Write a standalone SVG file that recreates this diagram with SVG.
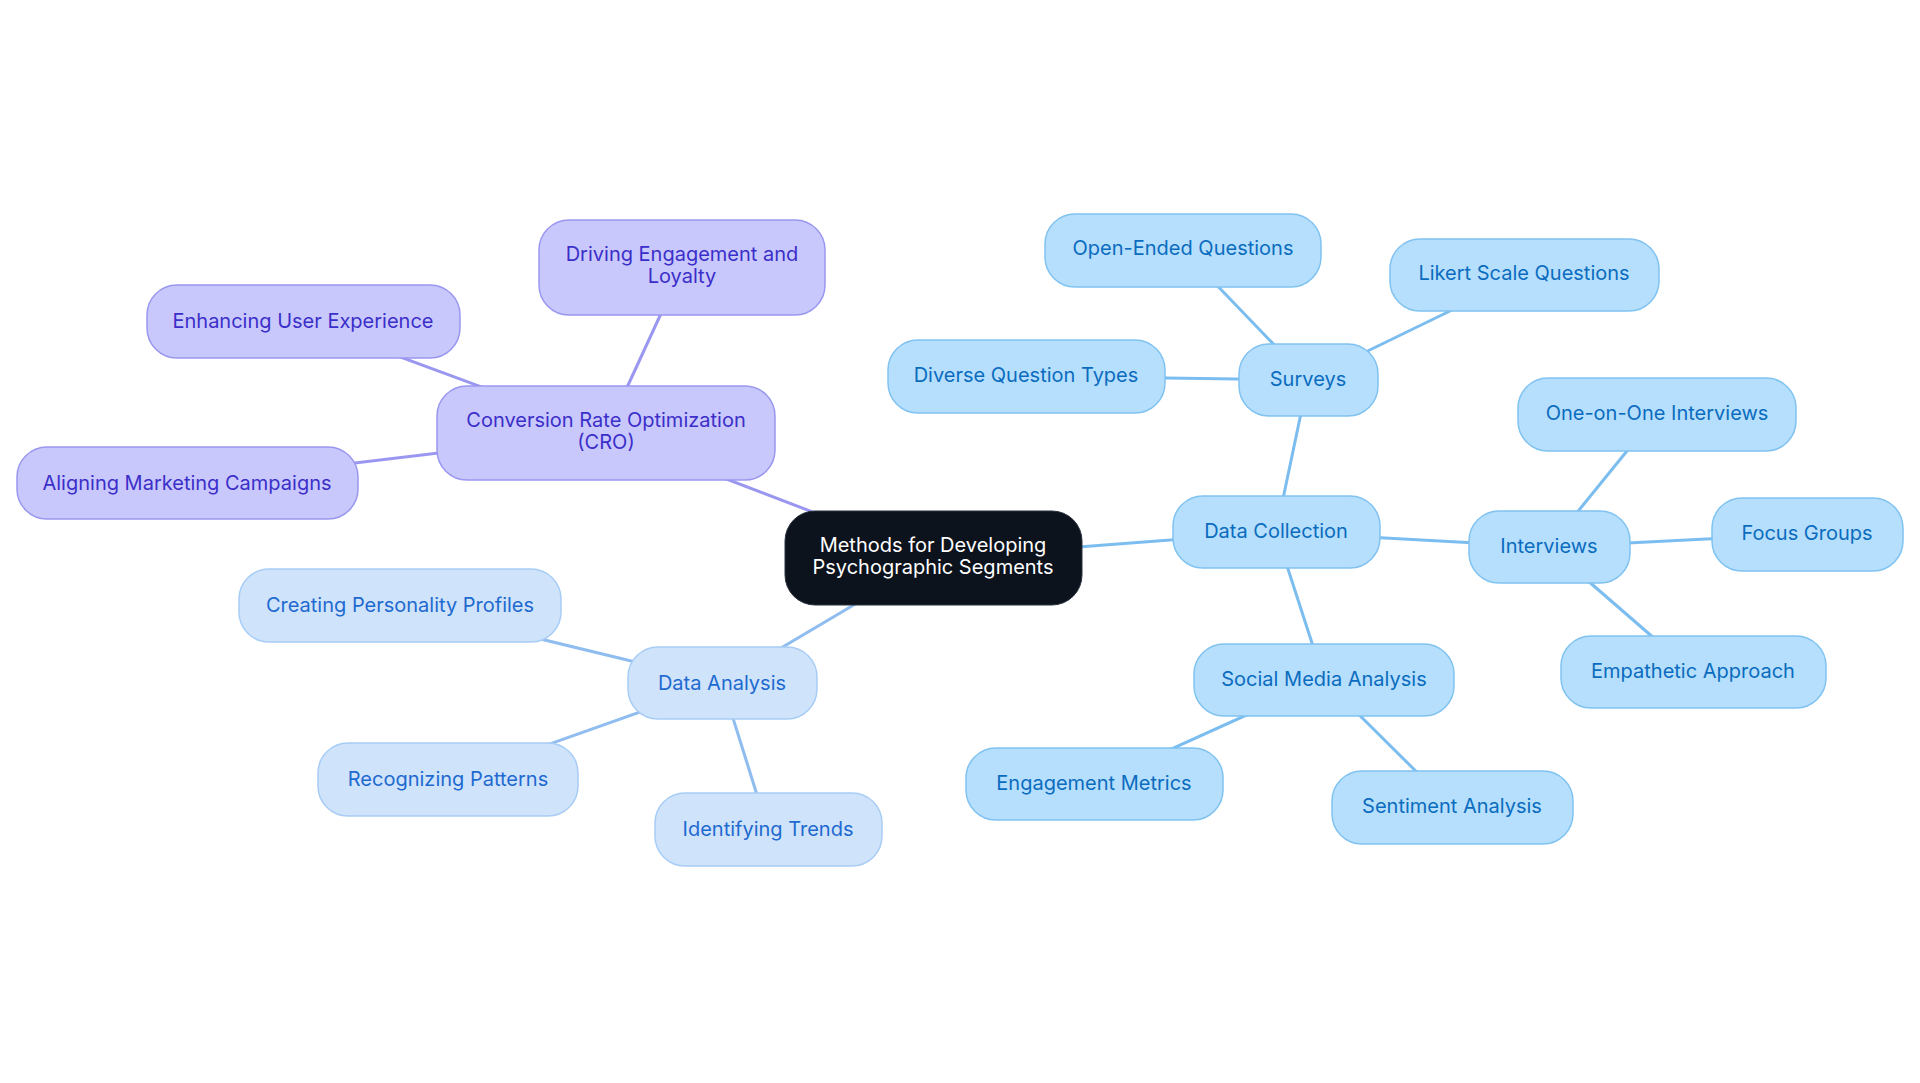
<svg xmlns="http://www.w3.org/2000/svg" width="1920" height="1083" viewBox="0 0 1920 1083">
<style>
text{font-family:Inter,"Liberation Sans",sans-serif;font-size:20px;text-anchor:middle;dominant-baseline:central}
.p rect{fill:#c9c8fc;stroke:#9a97f0;stroke-width:1.5}.p text{fill:#3b2fc9}
.a rect{fill:#cfe3fb;stroke:#a8cdf5;stroke-width:1.5}.a text{fill:#1e6ad0}
.c rect{fill:#b5dffc;stroke:#80c2f0;stroke-width:1.5}.c text{fill:#0b6cbf}
#edges line{stroke-width:3}
</style>
<rect width="1920" height="1083" fill="#fff"/>
<g id="edges">
<g stroke="#9a97f0"><line x1="933" y1="558" x2="606" y2="433"/><line x1="606" y1="433" x2="682" y2="268"/><line x1="606" y1="433" x2="303" y2="321"/><line x1="606" y1="433" x2="187" y2="483"/></g>
<g stroke="#90bdf0"><line x1="933" y1="558" x2="722" y2="683"/><line x1="722" y1="683" x2="400" y2="605"/><line x1="722" y1="683" x2="448" y2="780"/><line x1="722" y1="683" x2="768" y2="830"/></g>
<g stroke="#7cbdf0"><line x1="933" y1="558" x2="1276" y2="532"/><line x1="1276" y1="532" x2="1308" y2="380"/><line x1="1308" y1="380" x2="1183" y2="250"/><line x1="1308" y1="380" x2="1524" y2="275"/><line x1="1308" y1="380" x2="1026" y2="376"/><line x1="1276" y1="532" x2="1549" y2="547"/><line x1="1549" y1="547" x2="1657" y2="414"/><line x1="1549" y1="547" x2="1807" y2="534"/><line x1="1549" y1="547" x2="1693" y2="672"/><line x1="1276" y1="532" x2="1324" y2="680"/><line x1="1324" y1="680" x2="1094" y2="784"/><line x1="1324" y1="680" x2="1452" y2="807"/></g>
</g>
<g id="center"><rect x="785" y="511" width="297" height="94" rx="30" fill="#0d131d" stroke="#2a3240"/><text x="933" y="545" fill="#fff">Methods for Developing</text><text x="933" y="567" fill="#fff">Psychographic Segments</text></g>
<g id="cro" class="p"><rect x="437" y="386" width="338" height="94" rx="30"/><text x="606" y="420">Conversion Rate Optimization</text><text x="606" y="442">(CRO)</text></g>
<g id="driving" class="p"><rect x="539" y="220" width="286" height="95" rx="30"/><text x="682" y="254">Driving Engagement and</text><text x="682" y="276">Loyalty</text></g>
<g id="enhancing" class="p"><rect x="147" y="285" width="313" height="73" rx="30"/><text x="303" y="321">Enhancing User Experience</text></g>
<g id="aligning" class="p"><rect x="17" y="447" width="341" height="72" rx="30"/><text x="187" y="483">Aligning Marketing Campaigns</text></g>
<g id="analysis" class="a"><rect x="628" y="647" width="189" height="72" rx="30"/><text x="722" y="683">Data Analysis</text></g>
<g id="creating" class="a"><rect x="239" y="569" width="322" height="73" rx="30"/><text x="400" y="605">Creating Personality Profiles</text></g>
<g id="recognizing" class="a"><rect x="318" y="743" width="260" height="73" rx="30"/><text x="448" y="779">Recognizing Patterns</text></g>
<g id="identifying" class="a"><rect x="655" y="793" width="227" height="73" rx="30"/><text x="768" y="829">Identifying Trends</text></g>
<g id="collection" class="c"><rect x="1173" y="496" width="207" height="72" rx="30"/><text x="1276" y="531">Data Collection</text></g>
<g id="surveys" class="c"><rect x="1239" y="344" width="139" height="72" rx="30"/><text x="1308" y="379">Surveys</text></g>
<g id="open" class="c"><rect x="1045" y="214" width="276" height="73" rx="30"/><text x="1183" y="248">Open-Ended Questions</text></g>
<g id="likert" class="c"><rect x="1390" y="239" width="269" height="72" rx="30"/><text x="1524" y="273">Likert Scale Questions</text></g>
<g id="diverse" class="c"><rect x="888" y="340" width="277" height="73" rx="30"/><text x="1026" y="375">Diverse Question Types</text></g>
<g id="interviews" class="c"><rect x="1469" y="511" width="161" height="72" rx="30"/><text x="1549" y="546">Interviews</text></g>
<g id="oneonone" class="c"><rect x="1518" y="378" width="278" height="73" rx="30"/><text x="1657" y="413">One-on-One Interviews</text></g>
<g id="focus" class="c"><rect x="1712" y="498" width="191" height="73" rx="30"/><text x="1807" y="533">Focus Groups</text></g>
<g id="empathetic" class="c"><rect x="1561" y="636" width="265" height="72" rx="30"/><text x="1693" y="671">Empathetic Approach</text></g>
<g id="social" class="c"><rect x="1194" y="644" width="260" height="72" rx="30"/><text x="1324" y="679">Social Media Analysis</text></g>
<g id="engagement" class="c"><rect x="966" y="748" width="257" height="72" rx="30"/><text x="1094" y="783">Engagement Metrics</text></g>
<g id="sentiment" class="c"><rect x="1332" y="771" width="241" height="73" rx="30"/><text x="1452" y="806">Sentiment Analysis</text></g>
</svg>
